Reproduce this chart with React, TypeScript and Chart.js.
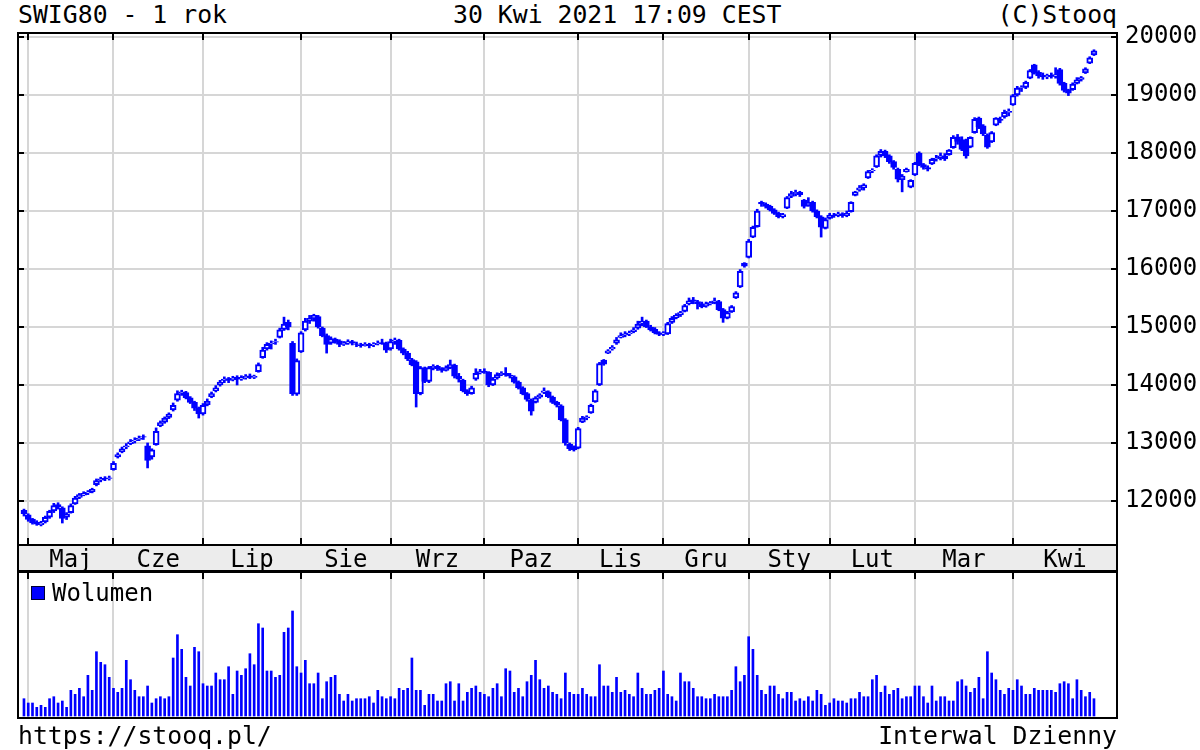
import React, { useEffect, useRef } from "react";
import { Chart, registerables } from "chart.js";

Chart.register(...registerables);

// ---- data ----
const monthLabels = ["Maj", "Cze", "Lip", "Sie", "Wrz", "Paz", "Lis", "Gru", "Sty", "Lut", "Mar", "Kwi"];
const monthTradingDays = [20, 21, 23, 21, 22, 22, 20, 20, 19, 20, 23, 20];
const priceTicks = [12000, 13000, 14000, 15000, 16000, 17000, 18000, 19000, 20000];

const open = [
  11840, 11760, 11690, 11630, 11590, 11640, 11720, 11830, 11940, 11880,
  11720, 11800, 11950, 12060, 12100, 12140, 12160, 12280, 12360, 12390,
  12390, 12540, 12760, 12850, 12930, 12990, 13040, 13060, 13110, 12950,
  12760, 12970, 13300, 13360, 13440, 13570, 13740, 13860, 13870, 13780,
  13700, 13600, 13500, 13660, 13800, 13900, 14000, 14080, 14110, 14090,
  14130, 14100, 14120, 14160, 14130, 14230, 14470, 14620, 14710, 14740,
  14820, 14960, 15080, 14720, 13840, 14570, 14950, 15100, 15150, 15180,
  14980, 14850, 14720, 14790, 14760, 14700, 14720, 14750, 14710, 14690,
  14680, 14700, 14690, 14710, 14730, 14720, 14620, 14760, 14770, 14620,
  14550, 14440, 14400, 13850, 14290, 14060, 14300, 14320, 14280, 14250,
  14300, 14340, 14150, 14080, 13900, 13850, 14100, 14210, 14240, 14220,
  14000, 14120, 14180, 14200, 14170, 14140, 14050, 13950, 13850, 13740,
  13700, 13790, 13870, 13880, 13790, 13700, 13640, 13400, 12980, 12920,
  12910, 13360, 13430, 13520, 13710, 14000, 14430, 14550, 14620, 14720,
  14820, 14860, 14880, 14920, 14980, 15060, 15100, 15000, 14960, 14900,
  14870, 14880, 15080, 15160, 15210, 15270, 15400, 15470, 15440, 15400,
  15360, 15400, 15420, 15440, 15300, 15150, 15260, 15500, 15690, 16100,
  16200, 16550, 16730, 17150, 17120, 17080, 17020, 16960, 16900, 17050,
  17250, 17300, 17320, 17190, 17090, 17150, 17000, 16900, 16700, 16870,
  16930, 16920, 16950, 16920, 16990, 17270, 17360, 17400, 17570, 17690,
  17760, 17960, 18030, 17950, 17850, 17720, 17540, 17680, 17410, 17620,
  18000, 17800, 17750, 17810, 17900, 17920, 17950, 17970, 18090, 18280,
  18230, 18220, 18100, 18350, 18600, 18470, 18310, 18190, 18480, 18580,
  18620, 18700, 18830, 19000, 19120, 19130, 19290, 19520, 19390, 19330,
  19310, 19340, 19320, 19440, 19200, 19080, 19090, 19200, 19270, 19380,
  19550, 19690,
];
const high = [
  11860, 11780, 11700, 11660, 11650, 11740, 11840, 11960, 11970, 11900,
  11800, 11950, 12080, 12130, 12160, 12180, 12220, 12380, 12410, 12420,
  12430, 12680, 12830, 12930, 12990, 13060, 13090, 13120, 13140, 13000,
  12900, 13260, 13380, 13450, 13520, 13690, 13900, 13910, 13890, 13800,
  13720, 13620, 13680, 13760, 13880, 13990, 14080, 14140, 14130, 14150,
  14160, 14160, 14180, 14190, 14170, 14380, 14650, 14730, 14760, 14790,
  14980, 15170, 15120, 14750, 14450, 14920, 15150, 15200, 15220, 15200,
  15000, 14880, 14830, 14810, 14780, 14750, 14780, 14770, 14740, 14720,
  14730, 14720, 14730, 14760, 14790, 14740, 14790, 14810, 14790, 14640,
  14580, 14460, 14420, 14320, 14310, 14320, 14350, 14340, 14300, 14330,
  14430, 14360, 14200, 14100, 13920, 13980, 14280, 14270, 14280, 14230,
  14130, 14210, 14230, 14300, 14200, 14160, 14070, 13970, 13870, 13760,
  13800, 13850, 13950, 13900, 13810, 13720, 13660, 13420, 13000, 12950,
  13270, 13460, 13470, 13670, 13920, 14390, 14440, 14610, 14680, 14820,
  14900, 14920, 14930, 14990, 15100, 15170, 15120, 15030, 14990, 14920,
  14920, 15080, 15180, 15230, 15270, 15390, 15500, 15510, 15460, 15430,
  15430, 15440, 15500, 15460, 15320, 15270, 15370, 15610, 15990, 16110,
  16510, 16740, 17030, 17170, 17140, 17100, 17040, 16980, 16960, 17250,
  17340, 17360, 17340, 17200, 17230, 17170, 17020, 16920, 16880, 16960,
  16960, 16980, 16970, 17000, 17160, 17340, 17440, 17470, 17700, 17730,
  17970, 18060, 18050, 17970, 17870, 17740, 17630, 17740, 17540, 17840,
  18020, 17820, 17780, 17910, 17960, 18000, 17990, 18060, 18300, 18320,
  18280, 18240, 18280, 18610, 18620, 18490, 18330, 18370, 18610, 18620,
  18740, 18760, 19010, 19150, 19160, 19240, 19440, 19530, 19420, 19380,
  19360, 19380, 19470, 19460, 19220, 19100, 19210, 19300, 19320, 19470,
  19660, 19780,
];
const low = [
  11740, 11650, 11600, 11580, 11570, 11620, 11700, 11800, 11860, 11620,
  11680, 11790, 11940, 12040, 12090, 12110, 12140, 12260, 12330, 12350,
  12360, 12530, 12740, 12830, 12900, 12970, 13000, 13040, 13060, 12570,
  12720, 12960, 13280, 13340, 13420, 13550, 13720, 13820, 13760, 13680,
  13560, 13430, 13480, 13640, 13780, 13880, 13980, 14040, 14040, 14070,
  14000, 14080, 14100, 14110, 14110, 14220, 14460, 14600, 14620, 14700,
  14810, 14940, 14950, 13820, 13820, 14560, 14930, 15060, 15100, 14980,
  14830, 14550, 14700, 14720, 14660, 14680, 14700, 14690, 14660, 14650,
  14670, 14640, 14660, 14690, 14700, 14560, 14600, 14700, 14600, 14520,
  14420, 14330, 13620, 13830, 14040, 14040, 14260, 14250, 14220, 14240,
  14280, 14120, 14050, 13880, 13820, 13840, 14080, 14190, 14200, 13970,
  13990, 14100, 14160, 14150, 14120, 14030, 13930, 13830, 13720, 13480,
  13690, 13770, 13850, 13780, 13680, 13620, 13380, 12960, 12870, 12860,
  12900, 13350, 13400, 13510, 13700, 13990, 14340, 14540, 14600, 14700,
  14810, 14830, 14850, 14900, 14960, 15020, 14990, 14930, 14880, 14850,
  14850, 14870, 15060, 15140, 15180, 15260, 15380, 15400, 15310, 15330,
  15340, 15380, 15400, 15280, 15080, 15140, 15250, 15490, 15680, 16030,
  16190, 16540, 16720, 17080, 17050, 17000, 16940, 16880, 16880, 17040,
  17230, 17260, 17250, 17050, 17080, 16980, 16880, 16550, 16690, 16860,
  16890, 16900, 16890, 16900, 16980, 17260, 17340, 17360, 17560, 17660,
  17750, 17930, 17920, 17820, 17720, 17500, 17330, 17670, 17400, 17610,
  17780, 17720, 17690, 17800, 17860, 17880, 17870, 17960, 18080, 18150,
  18040, 17910, 18090, 18340, 18420, 18300, 18080, 18180, 18470, 18520,
  18600, 18640, 18820, 18980, 19060, 19110, 19280, 19360, 19290, 19270,
  19280, 19290, 19290, 19170, 19050, 18990, 19080, 19190, 19240, 19370,
  19540, 19680,
];
const close = [
  11780, 11680, 11620, 11600, 11620, 11720, 11820, 11920, 11900, 11700,
  11780, 11920, 12050, 12110, 12130, 12150, 12200, 12350, 12380, 12380,
  12400, 12650, 12800, 12900, 12950, 13020, 13050, 13080, 13100, 12700,
  12880, 13200, 13350, 13430, 13500, 13650, 13850, 13880, 13780, 13700,
  13600, 13500, 13650, 13720, 13850, 13950, 14050, 14100, 14080, 14120,
  14100, 14130, 14150, 14140, 14150, 14350, 14600, 14700, 14720, 14750,
  14950, 15050, 15000, 13850, 14420, 14900, 15100, 15150, 15200, 15000,
  14850, 14700, 14800, 14750, 14700, 14720, 14750, 14720, 14700, 14680,
  14700, 14680, 14700, 14720, 14720, 14600, 14750, 14780, 14620, 14550,
  14450, 14350, 13850, 14300, 14060, 14300, 14320, 14280, 14250, 14300,
  14350, 14150, 14100, 13900, 13850, 13950, 14200, 14230, 14230, 14000,
  14100, 14180, 14200, 14180, 14150, 14050, 13950, 13850, 13750, 13550,
  13780, 13830, 13900, 13800, 13700, 13650, 13400, 13000, 12900, 12880,
  13250, 13430, 13450, 13650, 13900, 14370, 14360, 14590, 14650, 14780,
  14850, 14880, 14900, 14950, 15050, 15100, 15000, 14950, 14900, 14870,
  14900, 15060, 15150, 15200, 15250, 15370, 15450, 15450, 15400, 15350,
  15400, 15420, 15450, 15300, 15150, 15250, 15350, 15590, 15960, 16050,
  16480, 16720, 17000, 17120, 17080, 17020, 16960, 16900, 16940, 17230,
  17300, 17320, 17280, 17080, 17150, 17000, 16900, 16720, 16850, 16930,
  16920, 16950, 16920, 16960, 17150, 17330, 17400, 17450, 17680, 17700,
  17950, 18030, 17950, 17850, 17750, 17550, 17600, 17720, 17530, 17820,
  17800, 17750, 17720, 17890, 17910, 17950, 17900, 18050, 18270, 18200,
  18060, 17950, 18270, 18580, 18450, 18330, 18100, 18350, 18600, 18560,
  18700, 18720, 18990, 19120, 19130, 19220, 19420, 19380, 19330, 19310,
  19340, 19320, 19350, 19200, 19080, 19030, 19190, 19260, 19300, 19450,
  19640, 19760,
];
const volume = [
  173, 130, 130, 87, 107, 87, 173, 193, 130, 150,
  87, 257, 217, 277, 193, 407, 257, 643, 537, 513,
  387, 277, 237, 277, 557, 363, 257, 193, 193, 300,
  130, 173, 193, 173, 193, 580, 813, 667, 387, 300,
  687, 643, 323, 300, 300, 430, 363, 363, 493, 217,
  450, 407, 473, 623, 513, 923, 880, 450, 450, 387,
  407, 837, 880, 1050, 493, 430, 557, 323, 323, 430,
  173, 343, 387, 407, 217, 150, 217, 150, 173, 173,
  173, 193, 130, 257, 193, 173, 193, 173, 277, 257,
  277, 580, 257, 257, 107, 217, 217, 150, 150, 323,
  343, 150, 323, 150, 237, 277, 300, 237, 217, 193,
  277, 323, 193, 473, 450, 237, 277, 193, 343, 407,
  557, 363, 277, 300, 237, 217, 173, 430, 237, 217,
  217, 277, 217, 193, 193, 513, 300, 300, 237, 387,
  237, 257, 217, 193, 430, 277, 217, 217, 257, 277,
  450, 217, 193, 150, 430, 343, 343, 277, 193, 193,
  173, 173, 217, 193, 193, 193, 257, 493, 343, 407,
  793, 667, 407, 257, 217, 300, 300, 217, 173, 237,
  237, 150, 173, 150, 193, 150, 257, 217, 107, 130,
  173, 150, 150, 130, 173, 173, 237, 193, 193, 363,
  407, 237, 300, 217, 257, 277, 173, 193, 193, 300,
  300, 193, 130, 300, 150, 193, 193, 150, 150, 343,
  363, 300, 237, 277, 387, 173, 643, 430, 363, 257,
  217, 277, 257, 363, 300, 217, 217, 277, 257, 257,
  257, 257, 237, 323, 343, 323, 173, 363, 257, 193,
  237, 173,
];

// ---- styling / layout ----
const FONT = "'DejaVu Sans Mono', monospace";
const BLUE = "#0000ff";
const GRID = "#d6d6d6";
const BAND = "#ececec";
const X_MIN = -1.4;
const X_MAX = 256.4;
const Y_MIN = 11241;
const Y_MAX = 20069;
const VOL_MIN = -20;
const VOL_MAX = 1440;

const monthStarts: number[] = [];
{
  let idx = 1;
  for (const n of monthTradingDays) {
    monthStarts.push(idx);
    idx += n;
  }
}
const monthMids = monthStarts.map((s, k) =>
  k < monthStarts.length - 1 ? (s + monthStarts[k + 1]) / 2 : (s + X_MAX) / 2
);
const days = close.map((_, i) => i);

function makeFrame(bandHeight: number, yTicks: boolean, bottomTicks: boolean) {
  return {
    id: "frame" + bandHeight,
    beforeDraw(chart: any) {
      if (!bandHeight) return;
      const { ctx, chartArea: a } = chart;
      ctx.save();
      ctx.fillStyle = BAND;
      ctx.fillRect(a.left, a.bottom, a.right - a.left, bandHeight);
      ctx.restore();
    },
    afterDraw(chart: any) {
      const { ctx, chartArea: a, scales } = chart;
      ctx.save();
      ctx.strokeStyle = "#000";
      ctx.lineWidth = 2;
      ctx.strokeRect(a.left, a.top, a.right - a.left, a.bottom - a.top);
      if (bandHeight) {
        ctx.strokeRect(a.left, a.bottom, a.right - a.left, bandHeight);
      }
      ctx.beginPath();
      for (const v of monthStarts) {
        const x = Math.round(scales.x.getPixelForValue(v));
        ctx.moveTo(x, a.top);
        ctx.lineTo(x, a.top + 7);
        if (bottomTicks) {
          ctx.moveTo(x, a.bottom);
          ctx.lineTo(x, a.bottom - 7);
        }
      }
      if (yTicks) {
        for (const v of priceTicks) {
          const y = Math.round(scales.y.getPixelForValue(v));
          ctx.moveTo(a.left, y);
          ctx.lineTo(a.left + 6, y);
          ctx.moveTo(a.right, y);
          ctx.lineTo(a.right - 6, y);
        }
      }
      ctx.stroke();
      ctx.restore();
    },
  };
}

const textBase: React.CSSProperties = {
  position: "absolute",
  fontFamily: FONT,
  fontSize: 24.8,
  lineHeight: "24px",
  color: "#000",
  whiteSpace: "pre",
};

export default function App() {
  const priceRef = useRef<HTMLCanvasElement>(null);
  const volRef = useRef<HTMLCanvasElement>(null);

  useEffect(() => {
    const bodyData = days.map((i) => ({ x: i, y: [open[i], close[i]] }));
    const wickData = days.map((i) => ({ x: i, y: [low[i], high[i]] }));
    const bodyFill = days.map((i) => (close[i] >= open[i] ? "#ffffff" : BLUE));
    const xTicks = [...monthStarts, ...monthMids].sort((a, b) => a - b);

    const price = new Chart(priceRef.current!, {
      type: "bar",
      data: {
        datasets: [
          {
            data: bodyData as any,
            backgroundColor: bodyFill,
            borderColor: BLUE,
            borderWidth: 2,
            borderSkipped: false,
            barThickness: 6,
            grouped: false,
            order: 0,
          } as any,
          {
            data: wickData as any,
            backgroundColor: BLUE,
            borderWidth: 0,
            barThickness: 2,
            grouped: false,
            order: 1,
          } as any,
        ],
      },
      options: {
        animation: false,
        responsive: false,
        devicePixelRatio: 1,
        events: [],
        layout: { padding: { left: 18, top: 33, right: 0, bottom: 1 } },
        plugins: { legend: { display: false }, tooltip: { enabled: false } },
        scales: {
          x: {
            type: "linear",
            min: X_MIN,
            max: X_MAX,
            offset: false,
            afterBuildTicks: (s: any) => {
              s.ticks = xTicks.map((v) => ({ value: v }));
            },
            afterFit: (s: any) => {
              s.height = 26;
            },
            grid: {
              offset: false,
              lineWidth: 2,
              drawTicks: false,
              color: (c: any) =>
                c.tick && monthStarts.includes(c.tick.value) ? GRID : "rgba(0,0,0,0)",
            },
            border: { display: false },
            ticks: {
              autoSkip: false,
              maxRotation: 0,
              minRotation: 0,
              padding: 1,
              color: "#000",
              font: { family: FONT, size: 24 },
              callback: (v: any) => {
                const k = monthMids.indexOf(Number(v));
                return k >= 0 ? monthLabels[k] : "";
              },
            },
          },
          y: {
            type: "linear",
            position: "right",
            min: Y_MIN,
            max: Y_MAX,
            afterBuildTicks: (s: any) => {
              s.ticks = priceTicks.map((v) => ({ value: v }));
            },
            afterFit: (s: any) => {
              s.width = 83;
            },
            grid: { color: GRID, lineWidth: 2, drawTicks: false },
            border: { display: false },
            ticks: {
              padding: 8,
              color: "#000",
              font: { family: FONT, size: 24 },
              callback: (v: any) => String(v),
            },
          },
        },
      } as any,
      plugins: [makeFrame(26, true, true) as any],
    });

    const vol = new Chart(volRef.current!, {
      type: "bar",
      data: {
        datasets: [
          {
            label: "Wolumen",
            data: days.map((i) => ({ x: i, y: volume[i] })) as any,
            backgroundColor: BLUE,
            borderWidth: 0,
            barThickness: 2,
          } as any,
        ],
      },
      options: {
        animation: false,
        responsive: false,
        devicePixelRatio: 1,
        events: [],
        layout: { padding: { left: 18, top: 1, right: 83, bottom: 32 } },
        plugins: { legend: { display: false }, tooltip: { enabled: false } },
        scales: {
          x: {
            type: "linear",
            min: X_MIN,
            max: X_MAX,
            offset: false,
            afterBuildTicks: (s: any) => {
              s.ticks = monthStarts.map((v) => ({ value: v }));
            },
            afterFit: (s: any) => {
              s.height = 0;
            },
            grid: { offset: false, color: GRID, lineWidth: 2, drawTicks: false },
            border: { display: false },
            ticks: { display: false },
          },
          y: { display: false, min: VOL_MIN, max: VOL_MAX },
        },
      } as any,
      plugins: [makeFrame(0, false, false) as any],
    });

    return () => {
      price.destroy();
      vol.destroy();
    };
  }, []);

  return (
    <div
      style={{
        position: "fixed",
        left: 0,
        top: 0,
        width: 1200,
        height: 750,
        background: "#fff",
        overflow: "hidden",
      }}
    >
      <div style={{ ...textBase, left: 18, top: 3 }}>SWIG80 - 1 rok</div>
      <div style={{ ...textBase, left: 453, top: 3 }}>30 Kwi 2021 17:09 CEST</div>
      <div style={{ ...textBase, right: 83, top: 3 }}>(C)Stooq</div>
      <canvas
        ref={priceRef}
        width={1200}
        height={572}
        style={{ position: "absolute", left: 0, top: 0, width: 1200, height: 572 }}
      />
      <canvas
        ref={volRef}
        width={1200}
        height={179}
        style={{ position: "absolute", left: 0, top: 571, width: 1200, height: 179 }}
      />
      <div
        style={{
          position: "absolute",
          left: 31,
          top: 586,
          width: 12,
          height: 12,
          background: BLUE,
          border: "1px solid #000033",
        }}
      />
      <div style={{ ...textBase, fontSize: 24, left: 52, top: 581 }}>Wolumen</div>
      <div style={{ ...textBase, left: 18, top: 724 }}>https://stooq.pl/</div>
      <div style={{ ...textBase, right: 83, top: 724 }}>Interwal Dzienny</div>
    </div>
  );
}
